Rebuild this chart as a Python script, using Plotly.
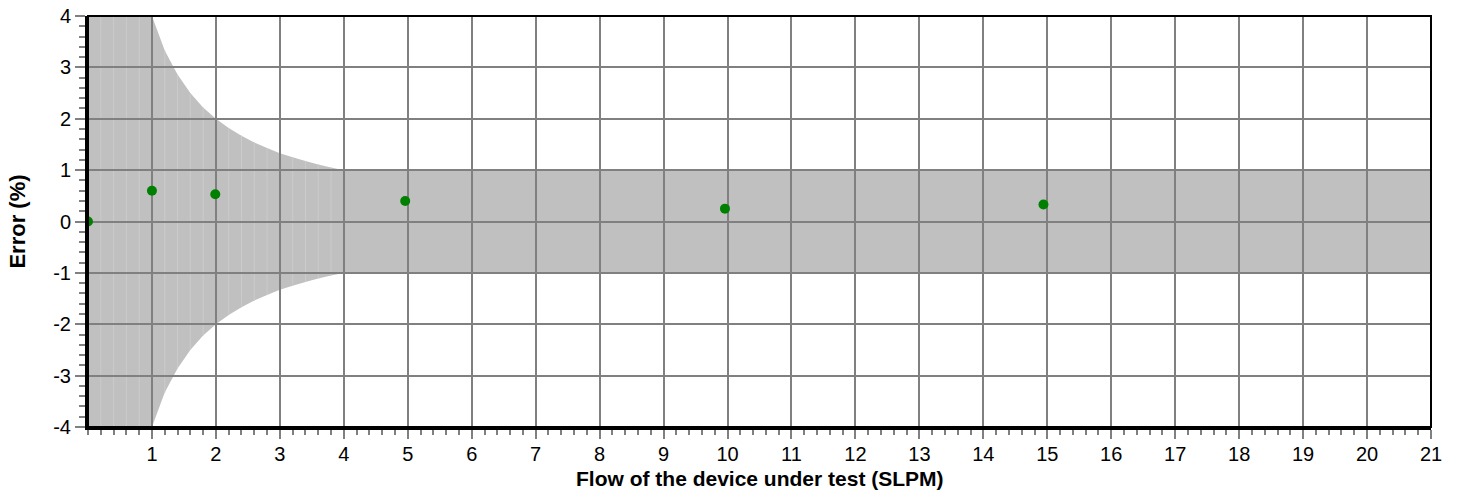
import plotly.graph_objects as go

# Measured points
flow = [0.0, 1.0, 1.99, 4.96, 9.96, 14.94]
error = [0.0, 0.60, 0.53, 0.40, 0.25, 0.33]

# Tolerance envelope
env_flow = [0.0, 0.2, 0.4, 0.6, 0.8, 1.0, 1.2, 1.4, 1.6, 1.8, 2.0, 2.2, 2.4,
            2.6, 2.8, 3.0, 3.2, 3.4, 3.6, 3.8, 4.0, 21.0]
env_upper = [4.0, 4.0, 4.0, 4.0, 4.0, 4.0, 3.33, 2.86, 2.5, 2.22, 2.0, 1.82, 1.67,
             1.54, 1.43, 1.33, 1.25, 1.18, 1.11, 1.05, 1.0, 1.0]
env_lower = [-4.0, -4.0, -4.0, -4.0, -4.0, -4.0, -3.33, -2.86, -2.5, -2.22, -2.0, -1.82, -1.67,
             -1.54, -1.43, -1.33, -1.25, -1.18, -1.11, -1.05, -1.0, -1.0]

x_tick_vals = list(range(1, 22))
x_tick_text = [str(v) for v in x_tick_vals]
y_tick_vals = [-4, -3, -2, -1, 0, 1, 2, 3, 4]
y_tick_text = ["-4", "-3", "-2", "-1", "0", "1", "2", "3", "4"]

x_title = "Flow of the device under test (SLPM)"
y_title = "Error (%)"

FONT = "Liberation Sans, Arial, sans-serif"
GRID = "#808080"

# band polygon path in data coordinates
pts_up = [f"{x},{y}" for x, y in zip(env_flow, env_upper)]
pts_lo = [f"{x},{y}" for x, y in zip(reversed(env_flow), reversed(env_lower))]
band_path = "M " + " L ".join(pts_up + pts_lo) + " Z"

# faint vertical strips inside the fill
strip_parts = []
for x, u, l in zip(env_flow, env_upper, env_lower):
    if 0 < x < 4 and abs(x - round(x)) > 1e-6:
        strip_parts.append(f"M {x},{l} L {x},{u}")
strip_path = " ".join(strip_parts)

fig = go.Figure()
fig.add_trace(go.Scatter(
    x=flow, y=error, mode="markers",
    marker=dict(color="#008000", size=10, line=dict(width=0)),
    cliponaxis=True, hoverinfo="skip", showlegend=False,
))

fig.add_shape(type="path", path=band_path, xref="x", yref="y",
              fillcolor="#c0c0c0", line=dict(width=0), layer="below")
fig.add_shape(type="path", path=strip_path, xref="x", yref="y",
              line=dict(color="#cbcbcb", width=1), layer="below")
fig.add_shape(type="rect", xref="paper", yref="paper", x0=0, x1=1, y0=0, y1=1,
              line=dict(color="black", width=2), layer="above")

fig.add_annotation(text=x_title, xref="paper", yref="paper", x=0.5, y=0,
                   xanchor="center", yanchor="middle", yshift=-51, showarrow=False,
                   font=dict(family=FONT, size=21, weight="bold", color="black"))

fig.update_layout(
    width=1458, height=498,
    margin=dict(l=88, r=27, t=16, b=71),
    plot_bgcolor="white", paper_bgcolor="white",
    font=dict(family=FONT, size=20, color="black"),
    showlegend=False,
)
fig.update_xaxes(
    range=[0, 21], tickmode="array", tickvals=x_tick_vals, ticktext=x_tick_text,
    showgrid=True, gridcolor=GRID, gridwidth=2,
    showline=True, linecolor="black", linewidth=3,
    ticks="outside", ticklen=9, tickwidth=2, tickcolor=GRID,
    minor=dict(tick0=0, dtick=0.2, ticks="outside", ticklen=5, tickwidth=1.5,
               tickcolor=GRID, showgrid=False),
    zeroline=False, automargin=False, ticklabelstandoff=-2,
    tickfont=dict(family=FONT, size=20),
)
fig.update_yaxes(
    range=[-4, 4], tickmode="array", tickvals=y_tick_vals, ticktext=y_tick_text,
    showgrid=True, gridcolor=GRID, gridwidth=2,
    showline=True, linecolor="black", linewidth=3,
    ticks="outside", ticklen=10, tickwidth=2, tickcolor=GRID,
    minor=dict(tick0=0, dtick=0.2, ticks="outside", ticklen=6, tickwidth=1.5,
               tickcolor=GRID, showgrid=False),
    zeroline=False, automargin=False,
    title=dict(text=y_title, font=dict(family=FONT, size=22, weight="bold"), standoff=22),
    tickfont=dict(family=FONT, size=20),
)

fig.write_html("out.html", config={"displayModeBar": False},
               post_script="document.body.style.margin='0';")
